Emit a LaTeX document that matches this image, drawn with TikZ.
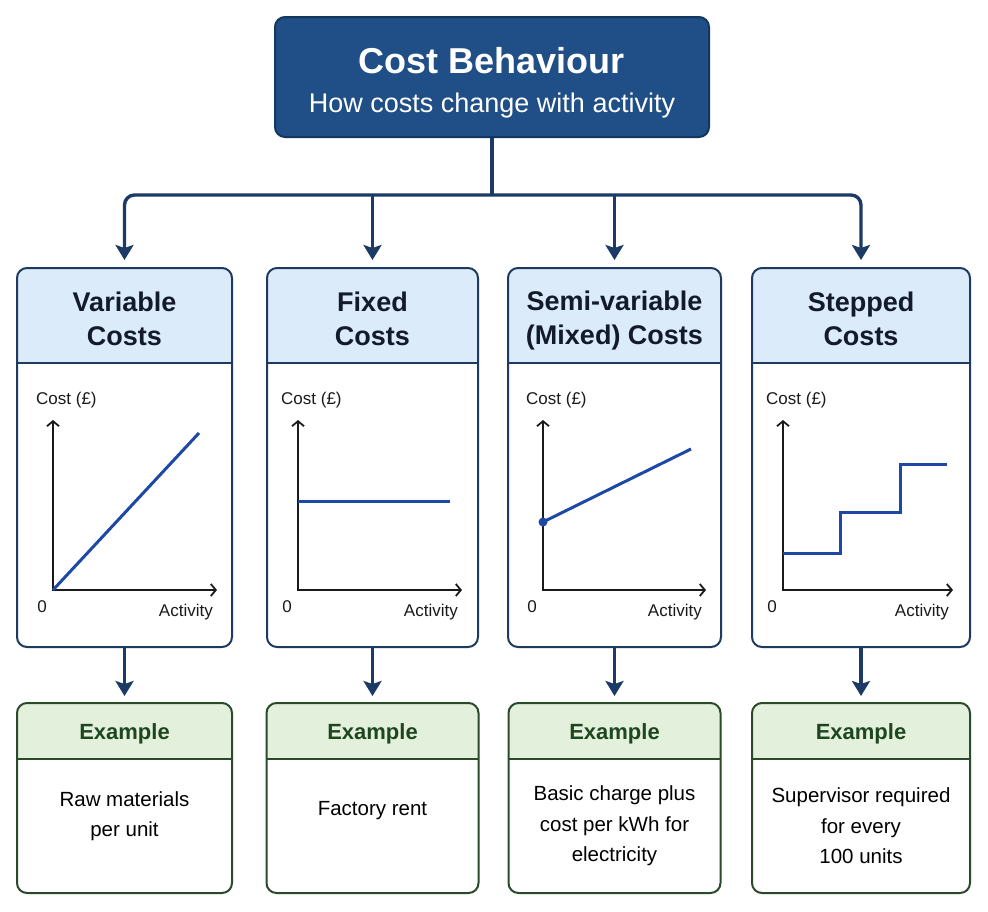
\documentclass[tikz,border=0pt]{standalone}
\usepackage{fontspec}
\setmainfont{Liberation Sans}
\usetikzlibrary{arrows.meta}
\definecolor{navy}{HTML}{1B3A66}
\definecolor{titlefill}{HTML}{1F4F86}
\definecolor{titleborder}{HTML}{143760}
\definecolor{cardborder}{HTML}{1F3A5F}
\definecolor{hdrfill}{HTML}{DCEBFA}
\definecolor{hdrtext}{HTML}{121A2B}
\definecolor{exborder}{HTML}{2B4A2B}
\definecolor{exfill}{HTML}{E3F0DC}
\definecolor{extext}{HTML}{1E4620}
\definecolor{lineblue}{HTML}{1D48A6}
\definecolor{lbltext}{HTML}{1A1A1A}
\begin{document}
\begin{tikzpicture}[x=1pt,y=-1pt,
  titlebox/.style={draw=titleborder, line width=2pt, fill=titlefill, rounded corners=10pt, inner sep=0pt},
  card/.style={draw=cardborder, line width=2pt, fill=white, rounded corners=10pt, inner sep=0pt, minimum height=379pt,
    path picture={\fill[hdrfill, sharp corners] ([yshift=2pt]path picture bounding box.north west) rectangle ([yshift=-95pt]path picture bounding box.north east);
      \draw[cardborder, line width=2pt, sharp corners] ([yshift=-95pt]path picture bounding box.north west) -- ([yshift=-95pt]path picture bounding box.north east);}},
  excard/.style={draw=exborder, line width=2pt, fill=white, rounded corners=10pt, inner sep=0pt, minimum height=190pt,
    path picture={\fill[exfill, sharp corners] ([yshift=2pt]path picture bounding box.north west) rectangle ([yshift=-56pt]path picture bounding box.north east);
      \draw[exborder, line width=2pt, sharp corners] ([yshift=-56pt]path picture bounding box.north west) -- ([yshift=-56pt]path picture bounding box.north east);}},
  htext/.style={align=center, text=hdrtext, font=\fontsize{27}{34}\selectfont\bfseries, inner sep=0pt},
  etitle/.style={text=extext, font=\fontsize{22}{26}\selectfont\bfseries, inner sep=0pt},
  etext/.style={align=center, text=black, font=\fontsize{20.5}{30.5}\selectfont, inner sep=0pt},
  lbl/.style={text=lbltext, font=\fontsize{17}{20}\selectfont, inner sep=0pt},
  conn/.style={draw=navy, line width=3.4pt},
  arr/.style={conn, -{Stealth[length=15pt,width=18pt,inset=3pt]}, shorten >=7pt},
  axis/.style={line width=1.8pt, draw=lbltext, {Straight Barb[length=5pt,width=12pt]}-{Straight Barb[length=5pt,width=12pt]}},
  gline/.style={draw=lineblue, line width=3pt}
]
\useasboundingbox (0,0) rectangle (988,911);
\fill[white] (0,0) rectangle (988,911);

% title
\node[titlebox, minimum width=434pt, minimum height=120pt] (title) at (492,77) {};
\node[anchor=base, text=white, font=\fontsize{36}{40}\selectfont\bfseries, inner sep=0pt] (t1) at (492,73) {Cost Behaviour};
\node[anchor=base, text=white, font=\fontsize{27}{30}\selectfont, inner sep=0pt] (t2) at (492,112) {How costs change with activity};

% cards
\node[card, minimum width=215pt] (c1) at (124.5,457.5) {};
\node[card, minimum width=211pt] (c2) at (372.5,457.5) {};
\node[card, minimum width=213pt] (c3) at (614.5,457.5) {};
\node[card, minimum width=218pt] (c4) at (861,457.5) {};

\node[htext] (h1) at (124.5,319) {Variable\\Costs};
\node[htext] (h2) at (372.5,319) {Fixed\\Costs};
\node[htext] (h3) at (614.5,321) {Semi-variable\\(Mixed) Costs};
\node[htext] (h4) at (861,319) {Stepped\\Costs};

% examples
\node[excard, minimum width=215pt] (e1) at (124.5,798) {};
\node[excard, minimum width=212pt] (e2) at (372.5,798) {};
\node[excard, minimum width=212pt] (e3) at (614.5,798) {};
\node[excard, minimum width=218pt] (e4) at (861,798) {};

\node[etitle] (eh1) at (124.5,734) {Example};
\node[etitle] (eh2) at (372.5,734) {Example};
\node[etitle] (eh3) at (614.5,734) {Example};
\node[etitle] (eh4) at (861,734) {Example};

\node[etext] (b1) at (124.5,816) {Raw materials\\per unit};
\node[etext] (b2) at (372.5,811) {Factory rent};
\node[etext] (b3) at (614.5,826) {Basic charge plus\\cost per kWh for\\electricity};
\node[etext] (b4) at (861,826) {Supervisor required\\for every\\100 units};

% connectors
\coordinate (bus) at (492,195);
\draw[conn] (title.south) -- (bus);
\draw[arr, rounded corners=10pt] (bus) -| (c1.north);
\draw[arr, rounded corners=10pt] (bus) -| (c4.north);
\draw[arr] (c2.north |- bus) -- (c2.north);
\draw[arr] (c3.north |- bus) -- (c3.north);
\draw[arr, shorten >=6pt] (c1.south) -- (e1.north);
\draw[arr, shorten >=6pt] (c2.south) -- (e2.north);
\draw[arr, shorten >=6pt] (c3.south) -- (e3.north);
\draw[arr, shorten >=6pt] (c4.south) -- (e4.north);

% graphs
\foreach \i/\ax/\ae in {1/53/217, 2/298/462, 3/543/706, 4/783/953} {
  \draw[axis] (\ax,420) -- (\ax,590) -- (\ae,590);
  \node[lbl, anchor=base west] (cost\i) at (\ax-17,404) {Cost (£)};
  \node[lbl, anchor=base] (zero\i) at (\ax-11,612) {0};
  \node[lbl, anchor=base east] (act\i) at (\ae-4,616) {Activity};
}
\draw[gline] (53,590) -- (199,433);
\draw[gline] (298,501) -- (450,501);
\draw[gline] (543,522) -- (691,449);
\fill[lineblue] (543,522) circle (4.5pt);
\draw[gline] (783,553) -- (840,553) -- (840,512) -- (900,512) -- (900,464) -- (947,464);
\end{tikzpicture}
\end{document}
